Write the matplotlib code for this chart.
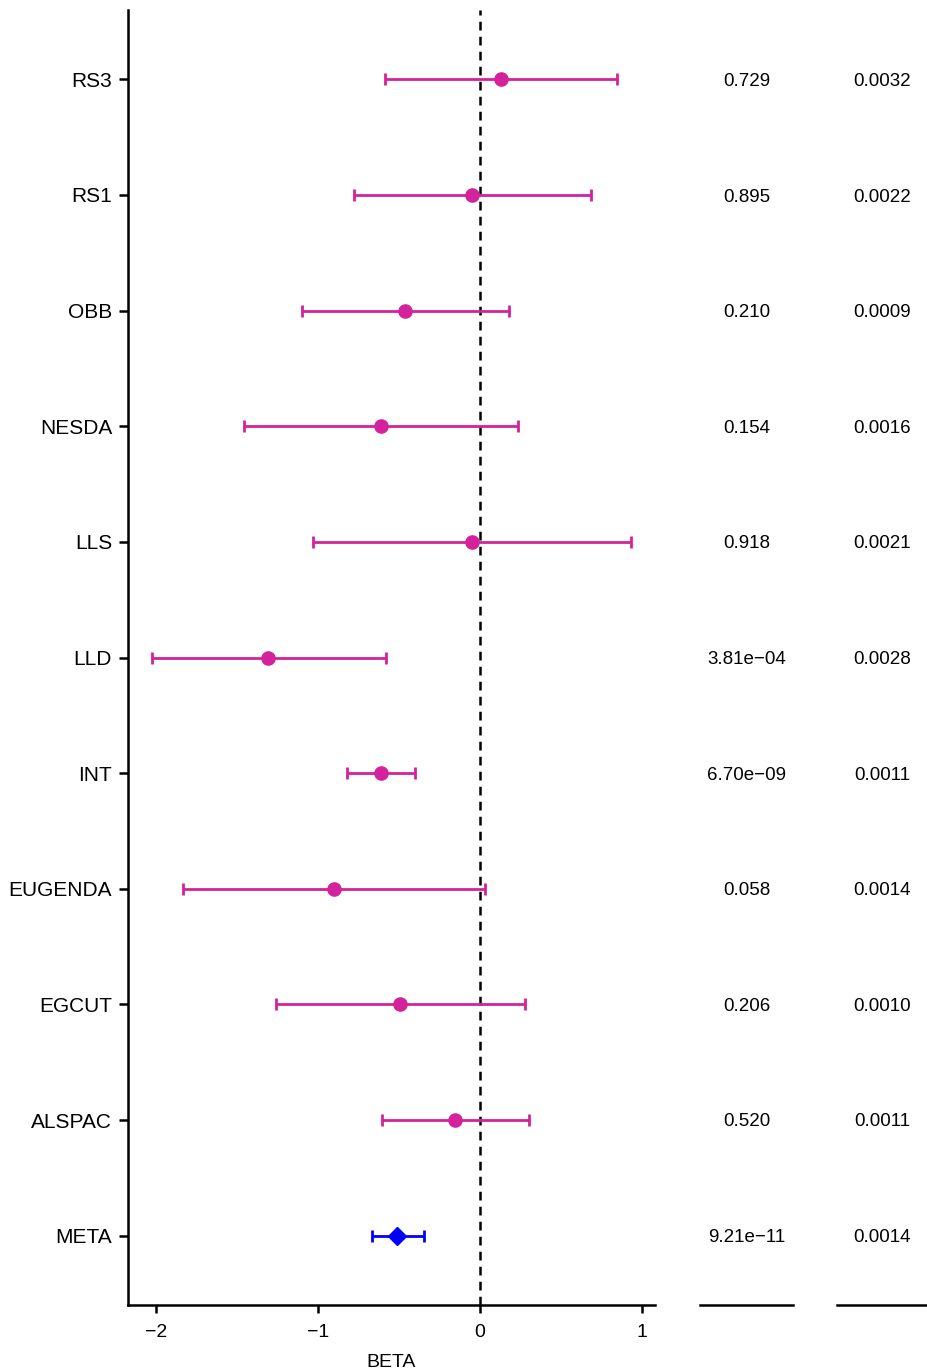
import matplotlib
matplotlib.use("Agg")
import matplotlib.pyplot as plt

plt.rcParams['font.family'] = ['Liberation Sans', 'DejaVu Sans']

studies = ["META", "ALSPAC", "EGCUT", "EUGENDA", "INT", "LLD", "LLS", "NESDA", "OBB", "RS1", "RS3"]
beta = [-0.512, -0.154, -0.494, -0.901, -0.611, -1.309, -0.049, -0.611, -0.463, -0.049, 0.130]
ci_low = [-0.667, -0.605, -1.259, -1.833, -0.821, -2.025, -1.031, -1.457, -1.099, -0.778, -0.586]
ci_high = [-0.346, 0.302, 0.278, 0.031, -0.401, -0.580, 0.932, 0.235, 0.179, 0.685, 0.846]
pvals = ["9.21e\u221211", "0.520", "0.206", "0.058", "6.70e\u221209", "3.81e\u221204",
         "0.918", "0.154", "0.210", "0.895", "0.729"]
col2 = ["0.0014", "0.0011", "0.0010", "0.0014", "0.0011", "0.0028",
        "0.0021", "0.0016", "0.0009", "0.0022", "0.0032"]

W, H = 928, 1371
fig = plt.figure(figsize=(W / 100, H / 100), dpi=100)

bottom = 1 - 1305 / H
top = 1 - 10 / H
ax = fig.add_axes([128 / W, bottom, (655 - 128) / W, top - bottom])
ax2 = fig.add_axes([700 / W, bottom, (793 - 700) / W, top - bottom])
ax3 = fig.add_axes([837 / W, bottom, (928 - 837) / W, top - bottom])

mag = '#d3229b'
for i, s in enumerate(studies):
    lo = beta[i] - ci_low[i]
    hi = ci_high[i] - beta[i]
    if s == "META":
        ax.errorbar(beta[i], i, xerr=[[lo], [hi]], fmt='D', color='#0000ff',
                    ms=9, capsize=4.5, capthick=2, elinewidth=2, zorder=3)
    else:
        ax.errorbar(beta[i], i, xerr=[[lo], [hi]], fmt='o', color=mag,
                    ms=9.5, capsize=4.5, capthick=2, elinewidth=2, zorder=3)

ax.axvline(0, color='black', ls=(0, (3.5, 2.5)), lw=1.8, zorder=2)
ax.set_xlim(-2.173, 1.08)
ax.set_ylim(-0.6, len(studies) - 0.4)
ax.set_yticks(range(len(studies)))
ax.set_yticklabels(studies, fontsize=15)
ax.set_xticks([-2, -1, 0, 1])
ax.set_xticklabels(["\u22122", "\u22121", "0", "1"], fontsize=14)
ax.set_xlabel("BETA", fontsize=14, labelpad=9)
for sp in ['top', 'right']:
    ax.spines[sp].set_visible(False)
for sp in ['left', 'bottom']:
    ax.spines[sp].set_linewidth(1.8)
ax.tick_params(axis='y', width=1.8, length=6.5, pad=5)
ax.tick_params(axis='x', width=1.8, length=6, pad=8)

for a, txt in ((ax2, pvals), (ax3, col2)):
    a.set_xlim(0, 1)
    a.set_ylim(-0.6, len(studies) - 0.4)
    for i, t in enumerate(txt):
        a.text(0.5, i, t, ha='center', va='center_baseline', fontsize=13.5)
    for sp in ['top', 'right', 'left']:
        a.spines[sp].set_visible(False)
    a.spines['bottom'].set_linewidth(1.8)
    a.set_xticks([])
    a.set_yticks([])

fig.savefig("out.png", dpi=100)
